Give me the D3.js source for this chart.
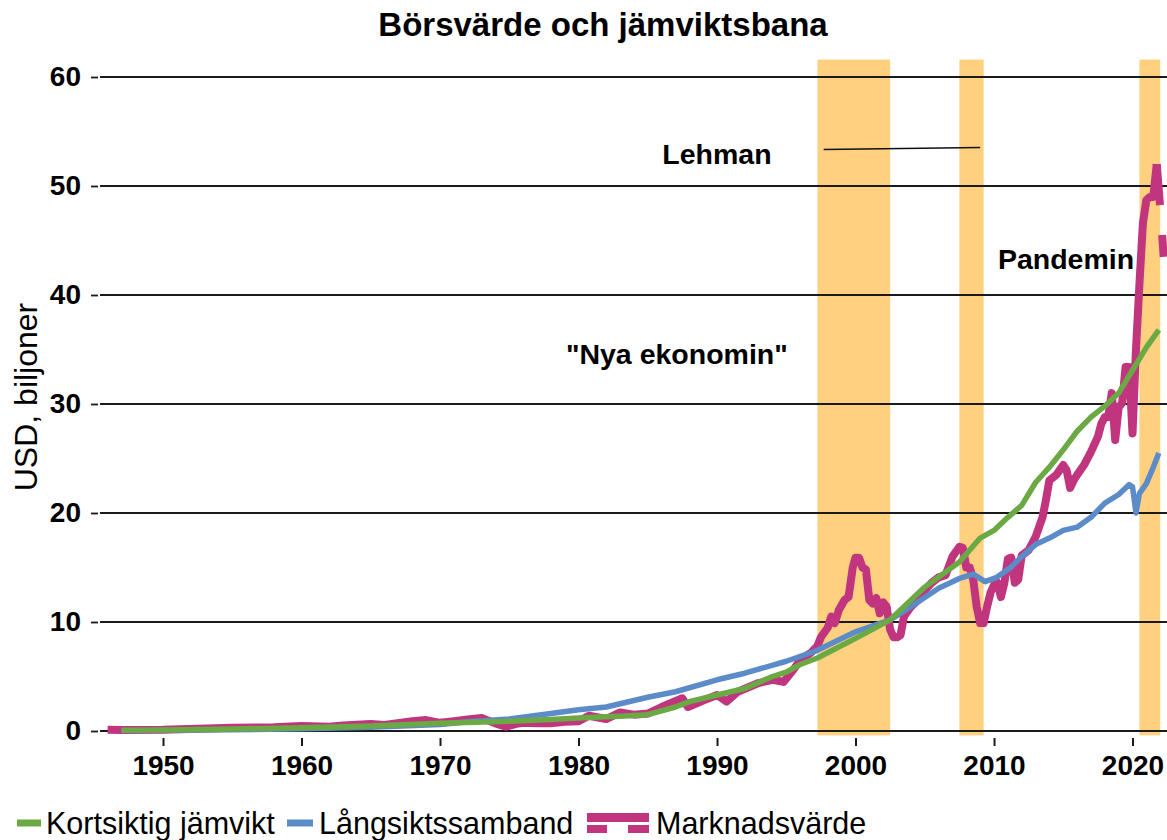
<!DOCTYPE html>
<html><head><meta charset="utf-8">
<script src="https://cdn.jsdelivr.net/npm/d3@7"></script>
<style>
body{margin:0;background:#fff;}
svg{display:block;font-family:"Liberation Sans",Arial,sans-serif;}
</style></head>
<body>
<svg id="chart" width="1167" height="840"></svg>
<script>
// ---- data ----
const title = "Börsvärde och jämviktsbana";
const yLabel = "USD, biljoner";
const xTicks = [1950, 1960, 1970, 1980, 1990, 2000, 2010, 2020];
const yTicks = [0, 10, 20, 30, 40, 50, 60];
const seriesNames = ["Kortsiktig jämvikt", "Långsiktssamband", "Marknadsvärde"];

const shadeStart = [1997.25, 2007.5, 2020.5];
const shadeEnd   = [2002.5, 2009.25, 2022.0];

const greenYears = [1947, 1950, 1955, 1960, 1965, 1970, 1975, 1978, 1980, 1982, 1983, 1985, 1987, 1988, 1990, 1992, 1994, 1995, 1996, 1997.25, 2000, 2002.5, 2005, 2007.5, 2009, 2010, 2011, 2012, 2013, 2014, 2015, 2016, 2017, 2018, 2019, 2020, 2021, 2021.9];
const greenValues = [0.08, 0.1, 0.18, 0.3, 0.45, 0.7, 0.9, 1.05, 1.2, 1.3, 1.35, 1.5, 2.2, 2.7, 3.3, 3.9, 5.0, 5.4, 6.1, 6.7, 8.5, 10.2, 13.2, 15.5, 17.7, 18.4, 19.6, 20.7, 22.8, 24.2, 25.8, 27.5, 28.8, 29.8, 31.0, 33.1, 35.2, 36.8];

const blueYears = [1947, 1950, 1955, 1960, 1965, 1970, 1972, 1975, 1978, 1980, 1982, 1985, 1987, 1990, 1992, 1995, 1997.25, 2000, 2002.5, 2004, 2006, 2007.5, 2008.5, 2009.35, 2010.2, 2011.2, 2012, 2013, 2014, 2015, 2016, 2017, 2018, 2019, 2019.75, 2020.0, 2020.25, 2020.5, 2021, 2021.5, 2021.9];
const blueValues = [0.05, 0.07, 0.12, 0.2, 0.35, 0.6, 0.85, 1.1, 1.6, 1.95, 2.2, 3.1, 3.6, 4.7, 5.3, 6.4, 7.4, 9.1, 10.2, 11.4, 13.1, 14.0, 14.4, 13.7, 14.1, 15.0, 16.0, 17.1, 17.7, 18.4, 18.7, 19.6, 20.9, 21.7, 22.6, 22.4, 20.0, 21.8, 22.7, 24.2, 25.5];

const marketYears = [1946, 1947, 1950, 1955, 1958, 1960, 1962, 1963, 1965, 1966, 1968, 1969, 1970, 1971, 1972, 1973, 1974, 1974.75, 1975.5, 1976, 1977, 1978, 1979, 1980, 1980.75, 1982, 1983, 1984, 1985, 1986, 1987.5, 1987.9, 1989, 1990, 1990.7, 1991.5, 1993, 1994, 1994.8, 1995.5, 1996, 1996.8, 1997.25, 1997.5, 1998, 1998.25, 1998.5, 1998.8, 1999.2, 1999.5, 1999.8, 2000.0, 2000.25, 2000.5, 2000.75, 2001.0, 2001.25, 2001.5, 2001.75, 2002.0, 2002.25, 2002.5, 2002.75, 2003.0, 2003.25, 2003.5, 2004, 2004.5, 2005, 2005.5, 2006, 2006.5, 2007, 2007.5, 2007.75, 2008, 2008.25, 2008.5, 2008.75, 2009.0, 2009.25, 2009.5, 2009.75, 2010.0, 2010.25, 2010.5, 2010.75, 2011, 2011.25, 2011.5, 2011.75, 2012, 2012.5, 2013, 2013.25, 2013.5, 2013.75, 2014, 2014.5, 2015, 2015.25, 2015.5, 2015.75, 2016, 2016.5, 2017, 2017.5, 2017.75, 2018, 2018.25, 2018.5, 2018.75, 2019, 2019.25, 2019.5, 2019.75, 2020.0, 2020.25, 2020.5, 2020.75, 2021, 2021.25, 2021.5, 2021.75];
const marketValues = [0.12, 0.1, 0.12, 0.3, 0.35, 0.45, 0.4, 0.5, 0.65, 0.55, 0.9, 1.0, 0.75, 0.9, 1.05, 1.2, 0.7, 0.4, 0.65, 0.75, 0.7, 0.7, 0.85, 0.9, 1.4, 1.1, 1.7, 1.5, 1.6, 2.2, 3.0, 2.2, 2.8, 3.3, 2.7, 3.6, 4.4, 4.7, 4.5, 5.6, 6.5, 7.2, 7.8, 8.6, 9.5, 10.5, 9.9, 11.1, 12.0, 12.3, 15.0, 15.9, 15.9, 15.0, 14.8, 12.0, 11.7, 12.2, 10.8, 11.8, 11.4, 9.3, 8.6, 8.6, 8.8, 10.5, 11.4, 12.0, 12.9, 13.6, 14.1, 14.3, 16.0, 16.9, 16.8, 15.0, 15.0, 13.9, 11.4, 9.9, 9.9, 11.4, 12.7, 13.4, 13.6, 12.3, 13.6, 15.8, 15.9, 13.6, 13.9, 16.1, 16.6, 17.8, 18.7, 19.6, 21.2, 23.0, 23.5, 24.4, 23.9, 22.3, 23.0, 23.5, 24.4, 25.6, 27.0, 28.2, 28.8, 28.8, 31.0, 26.7, 29.7, 30.1, 33.4, 33.4, 27.3, 35.0, 41.0, 46.6, 48.7, 49.0, 49.0, 52.0];
// forecast (dashed) continuation
const forecastYears = [2021.75, 2022.0, 2022.25];
const forecastValues = [52.0, 48.0, 43.5];

const annotationTexts = ["Lehman", "\"Nya ekonomin\"", "Pandemin"];
const annotationYears = [1990.0, 1987.1, 2015.2];
const annotationValues = [52.9, 34.6, 43.3];
const lehmanLineYears = [1997.7, 2009.0];
const lehmanLineValues = [53.35, 53.53];

// ---- drawing ----
const svg = d3.select("#chart");
const W = 1167, H = 840;
const x = d3.scaleLinear().domain([1945.45, 2022.49]).range([100, 1167]);
const y = d3.scaleLinear().domain([0, 60]).range([731, 77]);

const colGreen = "#6BA944", colBlue = "#5B8BC9", colMag = "#C1357F", colShade = "#FED07F";
const fontTick = 28;

// shaded periods
svg.append("g").selectAll("rect").data(shadeStart).join("rect")
  .attr("x", (d) => x(d))
  .attr("width", (d, i) => x(shadeEnd[i]) - x(d))
  .attr("y", y(61.6))
  .attr("height", y(-0.4) - y(61.6))
  .attr("fill", colShade);

// gridlines
svg.append("g").selectAll("line").data(yTicks).join("line")
  .attr("x1", 100).attr("x2", W)
  .attr("y1", (d) => y(d)).attr("y2", (d) => y(d))
  .attr("stroke", "#1a1a1a").attr("stroke-width", 1.8);

// y axis ticks + labels
const yAxis = d3.axisLeft(y).tickValues(yTicks).tickSize(7).tickPadding(10).tickFormat(d3.format("d"));
const gy = svg.append("g").attr("transform", "translate(98,0)").call(yAxis);
gy.select(".domain").remove();
gy.selectAll(".tick line").attr("stroke", "#1a1a1a").attr("stroke-width", 1.8);
gy.selectAll(".tick text").attr("font-size", fontTick).attr("font-weight", "bold").attr("fill", "#000")
  .attr("font-family", "Liberation Sans, Arial, sans-serif");

// x axis ticks + labels
const xAxis = d3.axisBottom(x).tickValues(xTicks).tickSize(8).tickPadding(9).tickFormat(d3.format("d"));
const gx = svg.append("g").attr("transform", "translate(0,738)").call(xAxis);
gx.select(".domain").remove();
gx.selectAll(".tick line").attr("stroke", "#1a1a1a").attr("stroke-width", 2);
gx.selectAll(".tick text").attr("font-size", fontTick).attr("font-weight", "bold").attr("fill", "#000")
  .attr("font-family", "Liberation Sans, Arial, sans-serif");

// lines
const line = d3.line().x((d) => x(d[0])).y((d) => y(d[1]));
const zip = (a, b) => a.map((v, i) => [v, b[i]]);

svg.append("path").datum(zip(marketYears, marketValues)).attr("d", line)
  .attr("fill", "none").attr("stroke", colMag).attr("stroke-width", 8).attr("stroke-linejoin", "round");
svg.append("path").datum(zip(forecastYears, forecastValues)).attr("d", line)
  .attr("fill", "none").attr("stroke", colMag).attr("stroke-width", 8).attr("stroke-dasharray", "41,30");
svg.append("path").datum(zip(blueYears, blueValues)).attr("d", line)
  .attr("fill", "none").attr("stroke", colBlue).attr("stroke-width", 5.5).attr("stroke-linejoin", "round");
svg.append("path").datum(zip(greenYears, greenValues)).attr("d", line)
  .attr("fill", "none").attr("stroke", colGreen).attr("stroke-width", 5.5).attr("stroke-linejoin", "round");

// Lehman connector line
svg.append("path").datum(zip(lehmanLineYears, lehmanLineValues)).attr("d", line)
  .attr("fill", "none").attr("stroke", "#111").attr("stroke-width", 1.5);

// annotations
svg.append("g").selectAll("text").data(annotationTexts).join("text")
  .attr("x", (d, i) => x(annotationYears[i]))
  .attr("y", (d, i) => y(annotationValues[i]))
  .attr("text-anchor", "middle").attr("dominant-baseline", "central")
  .attr("font-size", 28.5).attr("font-weight", "bold").attr("fill", "#000")
  .text((d) => d);

// title
svg.append("text").attr("x", 603).attr("y", 24).attr("text-anchor", "middle")
  .attr("dominant-baseline", "central").attr("font-size", 33).attr("font-weight", "bold").text(title);

// y label
svg.append("text").attr("transform", "translate(26,397) rotate(-90)").attr("text-anchor", "middle")
  .attr("dominant-baseline", "central").attr("font-size", 32).text(yLabel);

// legend
const lg = svg.append("g");
const legendX = [17, 287, 587];
const legendTextX = [46, 319, 656];
const legendY = 823;
lg.append("line").attr("x1", legendX[0]).attr("x2", legendX[0] + 24).attr("y1", legendY).attr("y2", legendY)
  .attr("stroke", colGreen).attr("stroke-width", 7);
lg.append("line").attr("x1", legendX[1]).attr("x2", legendX[1] + 26).attr("y1", legendY).attr("y2", legendY)
  .attr("stroke", colBlue).attr("stroke-width", 7);
lg.append("rect").attr("x", legendX[2]).attr("y", 813).attr("width", 62).attr("height", 9).attr("fill", colMag);
lg.append("rect").attr("x", legendX[2]).attr("y", 825).attr("width", 20).attr("height", 8).attr("fill", colMag);
lg.append("rect").attr("x", legendX[2] + 41).attr("y", 825).attr("width", 21).attr("height", 8).attr("fill", colMag);
lg.selectAll("text").data(seriesNames).join("text")
  .attr("x", (d, i) => legendTextX[i]).attr("y", legendY)
  .attr("dominant-baseline", "central").attr("font-size", 30.5).attr("fill", "#000")
  .text((d) => d);
</script>
</body></html>
